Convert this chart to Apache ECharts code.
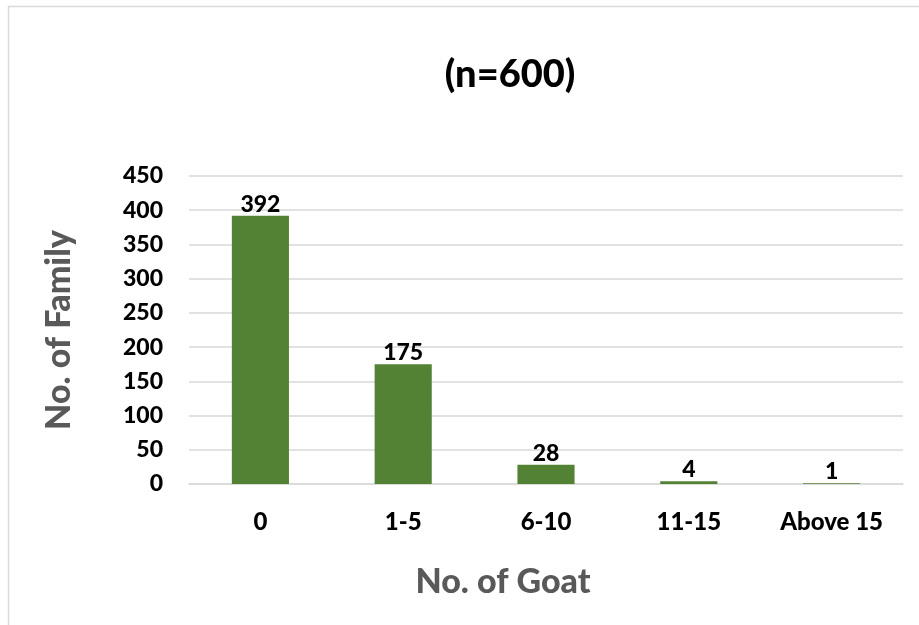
<!DOCTYPE html>
<html>
<head>
<meta charset="utf-8">
<script src="https://cdn.jsdelivr.net/npm/echarts@6/dist/echarts.min.js"></script>
<style>
  html, body { margin: 0; padding: 0; background: #ffffff; }
  #chart { width: 919px; height: 625px; }
</style>
</head>
<body>
<div id="chart"></div>
<script>
// Goat ownership per family
const categories = ['0', '1-5', '6-10', '11-15', 'Above 15'];
const families = [392, 175, 28, 4, 1];
const yTicks = { min: 0, max: 450, interval: 50 };

const FONT = 'Lato, "Open Sans", sans-serif';

const chart = echarts.init(document.getElementById('chart'), null, { renderer: 'canvas' });
chart.setOption({
  backgroundColor: '#ffffff',
  animation: false,
  graphic: [{
    type: 'rect',
    shape: { x: 8.5, y: 6.5, width: 940, height: 640 },
    style: { fill: 'none', stroke: '#d9d9d9', lineWidth: 1.5 },
    silent: true
  }],
  title: {
    text: '(n=600)',
    left: 505,
    top: 51,
    textAlign: 'center',
    textStyle: { fontFamily: FONT, fontWeight: 900, fontSize: 38, color: '#000000' }
  },
  grid: { left: 189, right: 16, top: 176, bottom: 141, containLabel: false },
  xAxis: {
    type: 'category',
    data: categories,
    name: 'No. of Goat',
    nameLocation: 'middle',
    nameGap: 81,
    nameTextStyle: {
      fontFamily: FONT, fontWeight: 900, fontSize: 34, color: '#595959',
      // the axis title sits left of the plot centre
      padding: [0, 86, 0, 0]
    },
    axisLine: { show: true, lineStyle: { color: '#d9d9d9', width: 1.5 } },
    axisTick: { show: false },
    axisLabel: { margin: 26, fontFamily: FONT, fontWeight: 900, fontSize: 24, color: '#000000' }
  },
  yAxis: {
    type: 'value',
    min: yTicks.min,
    max: yTicks.max,
    interval: yTicks.interval,
    name: 'No. of Family',
    nameLocation: 'middle',
    nameGap: 113,
    nameTextStyle: { fontFamily: FONT, fontWeight: 900, fontSize: 34, color: '#595959' },
    axisLine: { show: false },
    axisTick: { show: false },
    splitLine: { show: true, lineStyle: { color: '#d9d9d9', width: 1.5 } },
    axisLabel: { margin: 26, fontFamily: FONT, fontWeight: 900, fontSize: 23, color: '#000000' }
  },
  series: [{
    type: 'bar',
    data: families,
    barCategoryGap: '60%',
    itemStyle: { color: '#548235' },
    label: {
      show: true,
      position: 'top',
      distance: 0,
      fontFamily: FONT,
      fontWeight: 900,
      fontSize: 23,
      color: '#000000'
    }
  }]
});
</script>
</body>
</html>
